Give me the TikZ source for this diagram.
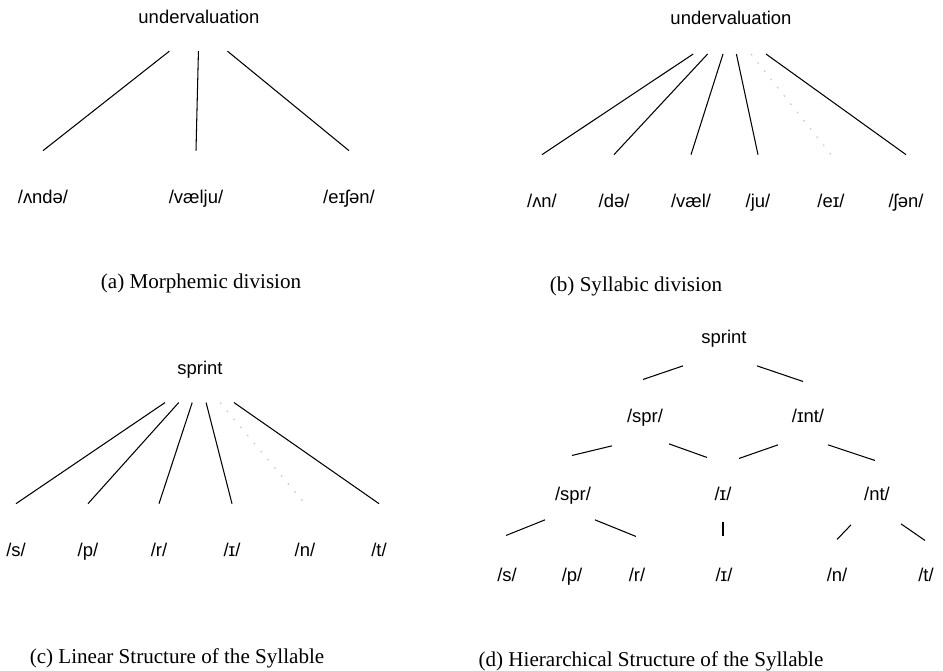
\documentclass[tikz,border=0pt]{standalone}
\usepackage{fontspec}
\setmainfont{Liberation Serif}
\newfontfamily\ipasans{Liberation Sans}
\usetikzlibrary{calc}

\begin{document}
\begin{tikzpicture}[
  x=0.02cm, y=-0.02cm,
  word/.style={font=\ipasans\fontsize{10.5}{12}\selectfont, inner sep=0pt,
               anchor=base, text height=7.5pt, text depth=2pt},
  leaf/.style={word, text height=1.06cm},
  caption/.style={font=\fontsize{12}{14}\selectfont, inner sep=0pt},
  branch/.style={line width=0.6pt},
  faint/.style={branch, black!22, dash pattern=on 1pt off 5pt},
]
  \useasboundingbox (0,0) rectangle (943,671);

  % (a) morphemes
  \node[word] (ua) at (199,24) {undervaluation};
  \node[leaf] (a1) at (43,204)  {/ʌndə/};
  \node[leaf] (a2) at (196,204) {/vælju/};
  \node[leaf] (a3) at (349,204) {/eɪʃən/};
  \foreach \n in {a1,a2,a3}
    \draw[branch] ($(ua.south)!.19!(\n.north)$) -- (\n.north);
  \node[caption] (capa) at (201,283) {(a) Morphemic division};

  % (b) syllables
  \node[word] (ub) at (731,25) {undervaluation};
  \node[leaf] (b1) at (542,208) {/ʌn/};
  \node[leaf] (b2) at (614,208) {/də/};
  \node[leaf] (b3) at (691,208) {/væl/};
  \node[leaf] (b4) at (758,208) {/ju/};
  \node[leaf] (b5) at (831,208) {/eɪ/};
  \node[leaf] (b6) at (906,208) {/ʃən/};
  \foreach \n in {b1,b2,b3,b4,b6}
    \draw[branch] ($(ub.south)!.2!(\n.north)$) -- (\n.north);
  \draw[faint] ($(ub.south)!.2!(b5.north)$) -- (b5.north);
  \node[caption] (capb) at (636,286) {(b) Syllabic division};

  % (c) flat syllable
  \node[word] (uc) at (200,375) {sprint};
  \node[leaf] (c1) at (16,557)  {/s/};
  \node[leaf] (c2) at (88,557)  {/p/};
  \node[leaf] (c3) at (159,557) {/r/};
  \node[leaf] (c4) at (232,557) {/ɪ/};
  \node[leaf] (c5) at (305,557) {/n/};
  \node[leaf] (c6) at (379,557) {/t/};
  \foreach \n in {c1,c2,c3,c4,c6}
    \draw[branch] ($(uc.south)!.19!(\n.north)$) -- (\n.north);
  \draw[faint] ($(uc.south)!.19!(c5.north)$) -- (c5.north);
  \node[caption] (capc) at (177,658) {(c) Linear Structure of the Syllable};

  % (d) nested syllable
  \node[word] (d0) at (724,344) {sprint};
  \node[word] (d1) at (645,423) {/spr/};
  \node[word] (d2) at (808,423) {/ɪnt/};
  \node[word] (d3) at (573,501) {/spr/};
  \node[word] (d4) at (723,501) {/ɪ/};
  \node[word] (d5) at (877,501) {/nt/};
  \node[word] (e1) at (507,582) {/s/};
  \node[word] (e2) at (572,582) {/p/};
  \node[word] (e3) at (637,582) {/r/};
  \node[word] (e4) at (724,582) {/ɪ/};
  \node[word] (e5) at (837,582) {/n/};
  \node[word] (e6) at (926,582) {/t/};

  \draw[branch] ([shift={(-41,18)}]d0.south) -- ([shift={(-2,-30)}]d1.north);
  \draw[branch] ([shift={(33,18)}]d0.south)  -- ([shift={(-5,-28)}]d2.north);
  \draw[branch] ([shift={(-33,19)}]d1.south) -- ([shift={(-1,-32)}]d3.north);
  \draw[branch] ([shift={(24,17)}]d1.south)  -- ([shift={(-16,-30)}]d4.north);
  \draw[branch] ([shift={(-30,18)}]d2.south) -- ([shift={(16,-29)}]d4.north);
  \draw[branch] ([shift={(20,18)}]d2.south)  -- ([shift={(-2,-27)}]d5.north);
  \draw[branch] ([shift={(-28,15)}]d3.south) -- ([shift={(-1,-33)}]e1.north);
  \draw[branch] ([shift={(22,15)}]d3.south)  -- ([shift={(-1,-32)}]e3.north);
  \draw[branch] ([shift={(0,17)}]d4.south)   -- ([shift={(-1,-32)}]e4.north);
  \draw[branch] ([shift={(-26,20)}]d5.south) -- ([shift={(0,-29)}]e5.north);
  \draw[branch] ([shift={(24,19)}]d5.south)  -- ([shift={(-1,-28)}]e6.north);
  \node[caption] (capd) at (651,661) {(d) Hierarchical Structure of the Syllable};
\end{tikzpicture}
\end{document}
